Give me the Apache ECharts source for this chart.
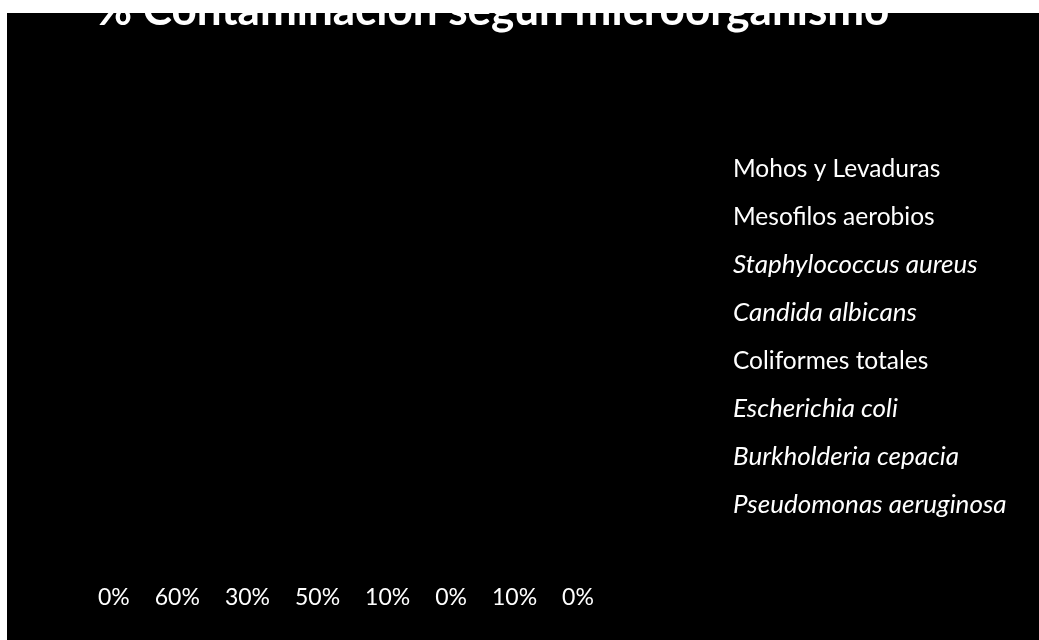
<!DOCTYPE html>
<html>
<head>
<meta charset="utf-8">
<script src="https://cdn.jsdelivr.net/npm/echarts@6/dist/echarts.min.js"></script>
<style>
  html, body { margin: 0; padding: 0; background: #ffffff; width: 1039px; height: 640px; overflow: hidden; }
  #chart { position: absolute; left: 7px; top: 13px; width: 1032px; height: 627px; background: #000000; }
</style>
</head>
<body>
<div id="chart"></div>
<script>
// Microorganisms tested and share of contaminated samples (%)
const organisms = [
  'Mohos y Levaduras',
  'Mesofilos aerobios',
  'Staphylococcus aureus',
  'Candida albicans',
  'Coliformes totales',
  'Escherichia coli',
  'Burkholderia cepacia',
  'Pseudomonas aeruginosa'
];
const contamination = [0, 60, 30, 50, 10, 0, 10, 0];
// Species names are set in italics
const italicNames = [
  'Staphylococcus aureus',
  'Candida albicans',
  'Escherichia coli',
  'Burkholderia cepacia',
  'Pseudomonas aeruginosa'
];
const categories = [''];

const FONT = 'Lato';
const LABEL_SIZE = 23;
const NAME_SIZE = 24.5;
const ITALIC_SIZE = 26;

const chart = echarts.init(document.getElementById('chart'), null, { renderer: 'canvas' });

const series = organisms.map((name, i) => ({
  name: name,
  type: 'bar',
  data: [contamination[i]],
  itemStyle: { color: '#000000' },
  barGap: '20%'
}));

chart.setOption({
  backgroundColor: '#000000',
  animation: false,
  title: {
    text: '% Contaminación según microorganismo',
    left: 84,
    top: -29,
    textStyle: { color: '#ffffff', fontFamily: FONT, fontWeight: 'bold', fontSize: 44 }
  },
  legend: [
    {
      orient: 'vertical',
      left: 702,
      top: 138,
      itemWidth: 14,
      itemHeight: 14,
      itemGap: 22,
      icon: 'rect',
      data: organisms,
      inactiveColor: '#000000',
      formatter: name => italicNames.includes(name) ? '{i|' + name + '}' : '{n|' + name + '}',
      textStyle: {
        color: '#ffffff',
        fontFamily: FONT,
        fontSize: NAME_SIZE,
        lineHeight: 26,
        rich: {
          n: { color: '#ffffff', fontFamily: FONT, fontSize: NAME_SIZE, lineHeight: 26 },
          i: { color: '#ffffff', fontFamily: FONT, fontSize: ITALIC_SIZE, lineHeight: 26, fontStyle: 'italic' }
        }
      }
    },
    {
      // row of percentage values under the plot
      orient: 'horizontal',
      left: 81,
      top: 568,
      itemWidth: 0,
      itemHeight: 0,
      itemGap: 20,
      icon: 'rect',
      data: organisms,
      inactiveColor: '#000000',
      formatter: name => contamination[organisms.indexOf(name)] + '%',
      textStyle: { color: '#ffffff', fontFamily: FONT, fontSize: LABEL_SIZE, lineHeight: 24 }
    }
  ],
  grid: { left: 90, right: 340, top: 90, bottom: 80 },
  xAxis: {
    type: 'category',
    data: categories,
    axisLine: { show: false },
    axisTick: { show: false },
    axisLabel: { show: false }
  },
  yAxis: {
    type: 'value',
    min: 0,
    max: 70,
    interval: 10,
    axisLine: { show: false },
    axisTick: { show: false },
    axisLabel: { show: false },
    splitLine: { show: false }
  },
  series: series
});
</script>
</body>
</html>
